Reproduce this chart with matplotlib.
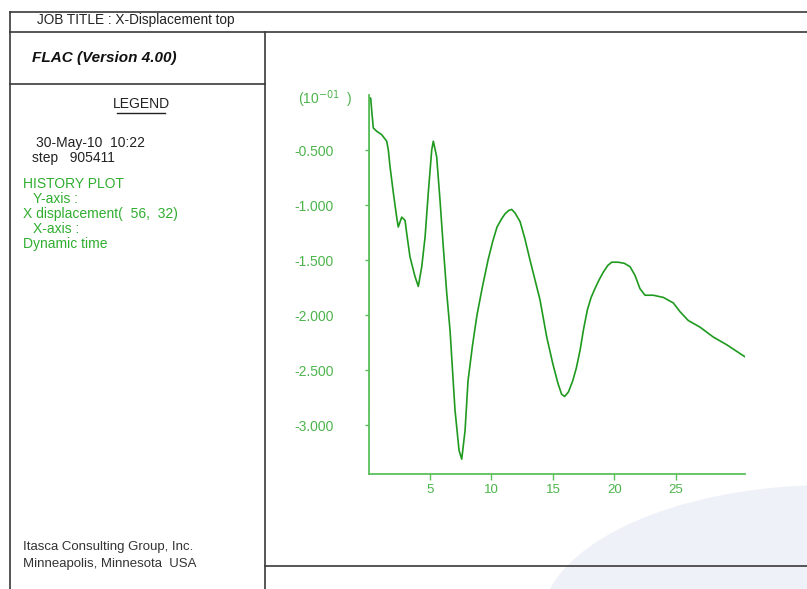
import matplotlib.pyplot as plt
from matplotlib.patches import Ellipse
from matplotlib.ticker import FixedLocator, FormatStrFormatter

plt.rcParams['font.family'] = ['Liberation Sans', 'DejaVu Sans']

# history record: dynamic time vs x displacement of gridpoint (56, 32), units of 1e-01
dyn_time = [0.00, 0.04, 0.18, 0.26, 0.39, 0.67, 1.07, 1.48, 1.61, 1.75, 2.02, 2.29, 2.42,
            2.70, 2.97, 3.11, 3.37, 3.78, 4.05, 4.33, 4.60, 4.86, 5.14, 5.27, 5.54, 5.81,
            6.08, 6.36, 6.63, 7.03, 7.36, 7.58, 7.85, 8.09, 8.45, 8.82, 9.25, 9.72, 10.10,
            10.45, 10.80, 11.10, 11.40, 11.64, 11.90, 12.32, 12.70, 13.13, 13.94, 14.49,
            15.00, 15.40, 15.70, 15.95, 16.25, 16.60, 16.90, 17.20, 17.50, 17.80, 18.10,
            18.41, 18.75, 19.09, 19.45, 19.77, 20.31, 20.80, 21.26, 21.67, 22.07, 22.48,
            22.80, 23.15, 23.97, 24.78, 25.33, 26.00, 26.95, 28.03, 29.12, 30.61]
x_disp = [-2.87, -0.02, -0.03, -0.14, -0.30, -0.33, -0.36, -0.42, -0.50, -0.65, -0.89, -1.11,
          -1.20, -1.11, -1.14, -1.26, -1.47, -1.65, -1.74, -1.56, -1.29, -0.89, -0.50, -0.42,
          -0.56, -0.95, -1.38, -1.80, -2.14, -2.86, -3.23, -3.31, -3.05, -2.60, -2.28, -2.00,
          -1.75, -1.50, -1.33, -1.20, -1.13, -1.08, -1.05, -1.04, -1.07, -1.15, -1.30, -1.50,
          -1.86, -2.20, -2.45, -2.62, -2.72, -2.74, -2.70, -2.60, -2.48, -2.32, -2.12, -1.95,
          -1.84, -1.76, -1.68, -1.61, -1.55, -1.52, -1.52, -1.53, -1.56, -1.64, -1.76, -1.82,
          -1.82, -1.82, -1.84, -1.89, -1.97, -2.05, -2.11, -2.20, -2.27, -2.38]

y_ticks = [-0.5, -1.0, -1.5, -2.0, -2.5, -3.0]
x_ticks = [5, 10, 15, 20, 25]

W, H = 807, 589
green_line = '#1f9a1f'
green_txt = '#2fae2f'
green_tick = '#4cb44c'
frame = '#3a3a3a'

fig = plt.figure(figsize=(W / 100, H / 100), dpi=100)

# page frame drawn in pixel units
bg = fig.add_axes([0, 0, 1, 1])
bg.set_xlim(0, W)
bg.set_ylim(H, 0)
bg.axis('off')

bg.add_patch(Ellipse((830, 625), 580, 280, facecolor='#eef1f8', edgecolor='none', zorder=0))

lw = 1.2
bg.plot([10, W], [12, 12], color=frame, lw=lw)
bg.plot([10, W], [32, 32], color=frame, lw=lw)
bg.plot([10, 10], [12, H], color=frame, lw=lw)
bg.plot([265, 265], [32, H], color=frame, lw=lw)
bg.plot([10, 265], [84, 84], color=frame, lw=lw)
bg.plot([265, W], [566, 566], color=frame, lw=lw)

fs = 10
bg.text(37, 20, 'JOB TITLE : X-Displacement top', fontsize=9.8, va='center', color='#222222')
bg.text(32, 58, 'FLAC (Version 4.00)', fontsize=11, fontweight='bold', fontstyle='italic',
        va='center', color='#111111')
bg.text(141, 104, 'LEGEND', fontsize=fs, ha='center', va='center', color='#222222')
bg.plot([117, 165], [113, 113], color='#222222', lw=1.0)
bg.text(36, 143, '30-May-10  10:22', fontsize=fs, va='center', color='#222222')
bg.text(32, 158, 'step   905411', fontsize=fs, va='center', color='#222222')

legend_lines = [(23, 184, 'HISTORY PLOT'), (33, 199, 'Y-axis :'),
                (23, 214, 'X displacement(  56,  32)'), (33, 229, 'X-axis :'),
                (23, 244, 'Dynamic time')]
for x, y, s in legend_lines:
    bg.text(x, y, s, fontsize=fs, va='center', color=green_txt)

bg.text(23, 547, 'Itasca Consulting Group, Inc.', fontsize=9.5, va='center', color='#333333')
bg.text(23, 564, 'Minneapolis, Minnesota  USA', fontsize=9.5, va='center', color='#333333')

bg.text(298, 99, r'(10$^{-01}$  )', fontsize=10, va='center', color=green_tick)

# history plot
x0, x1, y_top, y_bot = 368.5, 745, 95, 474
ax = fig.add_axes([x0 / W, 1 - y_bot / H, (x1 - x0) / W, (y_bot - y_top) / H])
ax.patch.set_alpha(0)
ax.plot(dyn_time, x_disp, color=green_line, lw=1.2)
ax.set_xlim(0, dyn_time[-1])
ax.set_ylim(-3.445, 0)

for side in ['top', 'right']:
    ax.spines[side].set_visible(False)
for side in ['left', 'bottom']:
    ax.spines[side].set_color('#5cbf5c')
    ax.spines[side].set_linewidth(1.3)

ax.yaxis.set_major_locator(FixedLocator(y_ticks))
ax.yaxis.set_major_formatter(FormatStrFormatter('%.3f'))
ax.xaxis.set_major_locator(FixedLocator(x_ticks))
ax.tick_params(axis='y', direction='out', length=3, width=1, color='#5cbf5c',
               labelcolor=green_tick, labelsize=10, pad=22)
ax.tick_params(axis='x', direction='out', length=4, width=1, color='#5cbf5c',
               labelcolor=green_tick, labelsize=9.5, pad=3)

fig.savefig('out.png', dpi=100)
